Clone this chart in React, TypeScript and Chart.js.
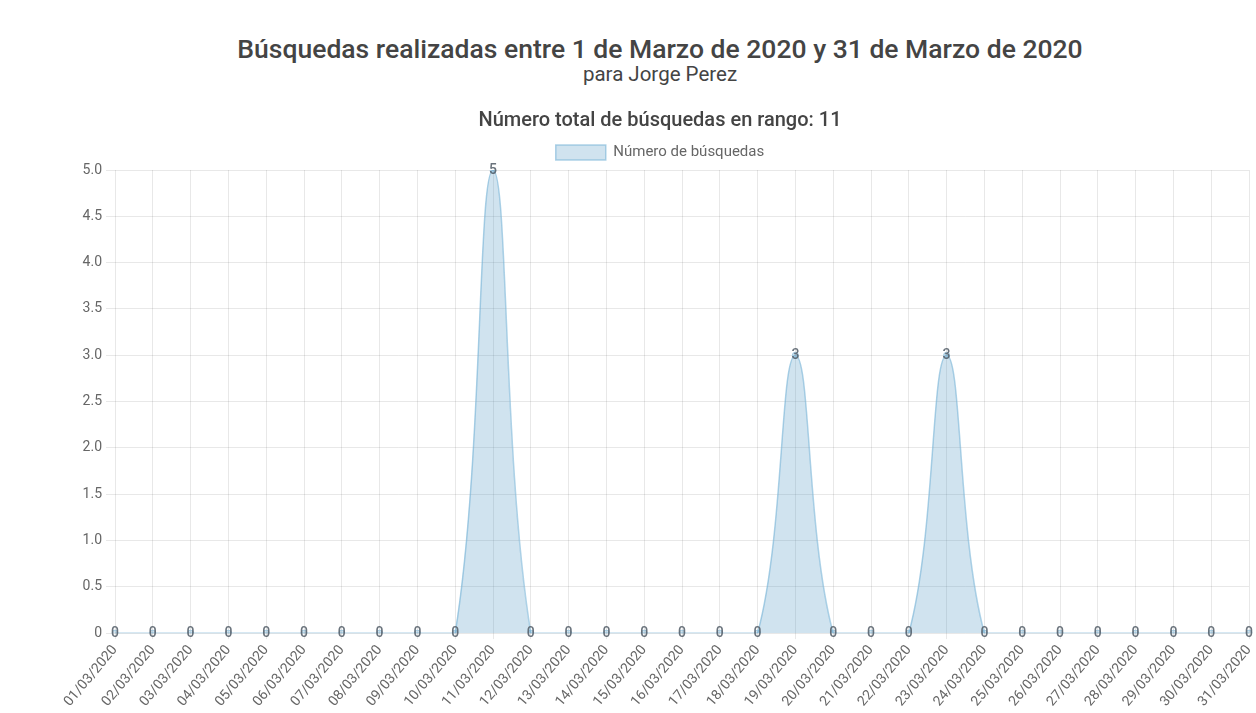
import React, { useEffect, useRef } from "react";
import { Chart, registerables } from "chart.js";

Chart.register(...registerables);

const TITLE = "Búsquedas realizadas entre 1 de Marzo de 2020 y 31 de Marzo de 2020";
const SUBTITLE = "para Jorge Perez";
const CHART_TITLE = "Número total de búsquedas en rango: 11";
const SERIES_LABEL = "Número de búsquedas";

const dates = [
  "01/03/2020", "02/03/2020", "03/03/2020", "04/03/2020", "05/03/2020",
  "06/03/2020", "07/03/2020", "08/03/2020", "09/03/2020", "10/03/2020",
  "11/03/2020", "12/03/2020", "13/03/2020", "14/03/2020", "15/03/2020",
  "16/03/2020", "17/03/2020", "18/03/2020", "19/03/2020", "20/03/2020",
  "21/03/2020", "22/03/2020", "23/03/2020", "24/03/2020", "25/03/2020",
  "26/03/2020", "27/03/2020", "28/03/2020", "29/03/2020", "30/03/2020",
  "31/03/2020",
];

const searches = [
  0, 0, 0, 0, 0, 0, 0, 0, 0, 0,
  5, 0, 0, 0, 0, 0, 0, 0, 3, 0,
  0, 0, 3, 0, 0, 0, 0, 0, 0, 0,
  0,
];

const valueLabels = {
  id: "valueLabels",
  afterDatasetsDraw(chart: any) {
    const ctx = chart.ctx;
    const meta = chart.getDatasetMeta(0);
    const data = chart.data.datasets[0].data;
    ctx.save();
    ctx.font = "500 14px Roboto";
    ctx.fillStyle = "rgba(90,100,110,0.9)";
    ctx.textAlign = "center";
    ctx.textBaseline = "middle";
    meta.data.forEach((pt: any, i: number) => {
      ctx.fillText(String(data[i]), pt.x, pt.y);
    });
    ctx.restore();
  },
};

export default function App() {
  const ref = useRef<HTMLCanvasElement>(null);

  useEffect(() => {
    document.body.style.margin = "0";
    const canvas = ref.current;
    if (!canvas) return;
    const chart = new Chart(canvas, {
      type: "line",
      data: {
        labels: dates,
        datasets: [
          {
            label: SERIES_LABEL,
            data: searches,
            fill: "origin",
            backgroundColor: "rgba(60,140,190,0.24)",
            borderColor: "rgba(120,180,215,0.6)",
            borderWidth: 1.5,
            tension: 0.4,
            pointRadius: 3,
            pointBackgroundColor: "rgba(60,140,190,0.24)",
            pointBorderColor: "rgba(120,180,215,0.6)",
            pointBorderWidth: 1,
            pointHoverRadius: 3,
          },
        ],
      },
      options: {
        animation: false,
        responsive: false,
        maintainAspectRatio: false,
        layout: { padding: { left: 71, right: 7, bottom: 0, top: 0 } },
        plugins: {
          title: {
            display: true,
            text: CHART_TITLE,
            color: "#444",
            font: { family: "Roboto", size: 20, weight: "500" },
            padding: { top: 109, bottom: 0 },
          },
          legend: {
            display: true,
            labels: {
              color: "#666",
              font: { family: "Roboto", size: 15 },
              boxWidth: 50,
              boxHeight: 15,
              padding: 12,
            },
          },
          tooltip: { enabled: false },
        },
        scales: {
          x: {
            grid: { color: "rgba(0,0,0,0.09)", drawTicks: true, tickLength: 6 },
            border: { display: false },
            ticks: {
              color: "#666",
              font: { family: "Roboto", size: 14 },
              maxRotation: 50,
              minRotation: 50,
              autoSkip: false,
            },
            afterFit: (scale: any) => {
              scale.paddingRight = 0;
            },
          },
          y: {
            min: 0,
            max: 5,
            grid: { color: "rgba(0,0,0,0.09)", tickLength: 9 },
            border: { display: false },
            ticks: {
              stepSize: 0.5,
              color: "#666",
              font: { family: "Roboto", size: 14 },
              padding: 4,
            },
            afterFit: (scale: any) => {
              scale.width = 44;
            },
          },
        },
      },
      plugins: [valueLabels],
    });
    return () => chart.destroy();
  }, []);

  return (
    <div style={{ position: "relative", width: 1256, height: 713, background: "#fff", fontFamily: "Roboto" }}>
      <div
        style={{
          position: "absolute",
          top: 33,
          left: 64,
          width: 1192,
          textAlign: "center",
          color: "#444",
          fontSize: 26.5,
          fontWeight: 500,
          lineHeight: "32px",
        }}
      >
        {TITLE}
      </div>
      <div
        style={{
          position: "absolute",
          top: 62,
          left: 64,
          width: 1192,
          textAlign: "center",
          color: "#444",
          fontSize: 20.5,
          lineHeight: "25px",
        }}
      >
        {SUBTITLE}
      </div>
      <canvas ref={ref} width={1256} height={713} style={{ position: "absolute", top: 0, left: 0 }} />
    </div>
  );
}
